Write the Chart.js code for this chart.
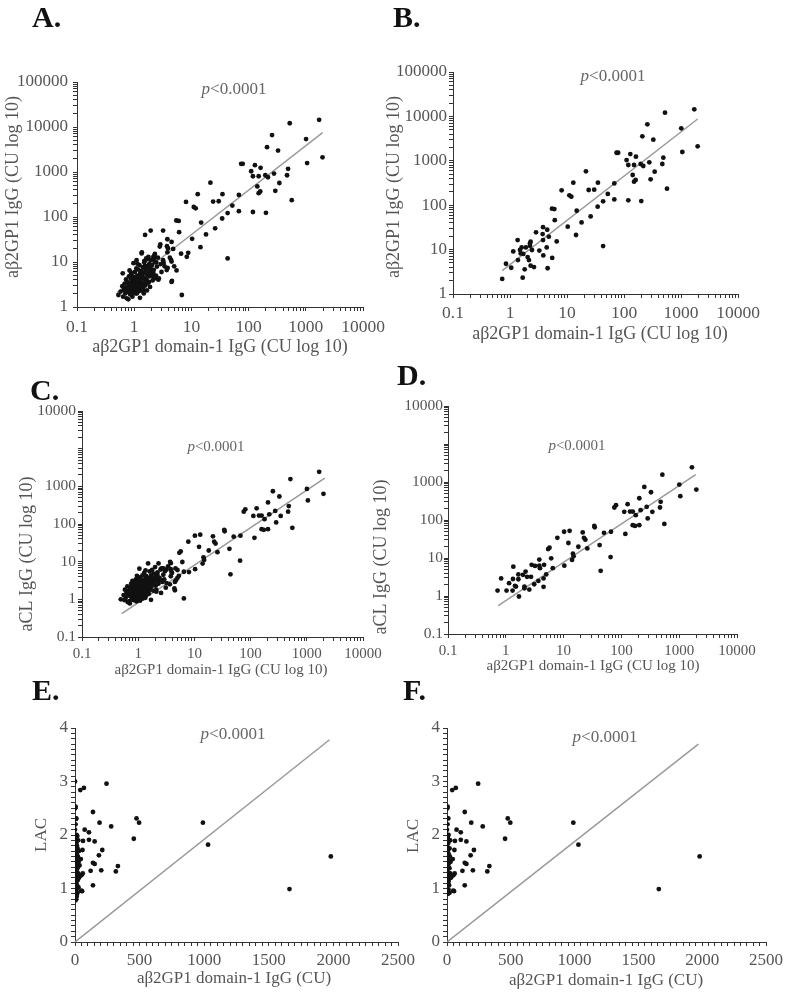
<!DOCTYPE html>
<html>
<head>
<meta charset="utf-8">
<title>aβ2GP1 domain-1 IgG correlations</title>
<script src="https://cdn.jsdelivr.net/npm/chart.js@4.4.1/dist/chart.umd.min.js"></script>
<style>
  body { margin: 0; background: #fff; overflow: hidden; }
  #figure { position: relative; width: 787px; height: 995px; }
  #figure canvas { position: absolute; }
</style>
</head>
<body>
<div id="figure"></div>
<script>
const SERIF = '"Liberation Serif", "Times New Roman", serif'

// tick labels
const logXTicks = [0.1, 1, 10, 100, 1000, 10000]
const logXLabels = ['0.1', '1', '10', '100', '1000', '10000']
const abYTicks = [1, 10, 100, 1000, 10000, 100000]
const abYLabels = ['1', '10', '100', '1000', '10000', '100000']
const cdYTicks = [0.1, 1, 10, 100, 1000, 100000]
const cdYLabels = ['0.1', '1', '10', '100', '1000', '10000'] // top label as printed in the figure
const lacXTicks = [0, 500, 1000, 1500, 2000, 2500]
const lacXLabels = ['0', '500', '1000', '1500', '2000', '2500']
const lacYTicks = [0, 1, 2, 3, 4]
const lacYLabels = ['0', '1', '2', '3', '4']

// [domain-1 IgG, aβ2GP1 IgG] - points shared by A and B
const b2gp1Points = [
  [524, 12100], [1710, 14400], [257, 6620], [1010, 5380], [210, 3560], [327, 2990], [1960, 2120],
  [1055, 1580], [74, 1520], [79, 1520], [129, 1420], [162, 1240], [111, 1040], [490, 1175],
  [119, 804], [150, 804], [196, 847], [218, 764], [278, 923], [470, 847], [21.5, 578], [142, 479],
  [345, 569], [160, 369], [150, 339], [293, 382], [12.9, 321], [34.9, 321], [67.6, 310], [8.05, 216],
  [24, 220], [30, 224], [11, 167], [11.9, 156], [568, 236], [52, 179], [43, 122], [67.6, 135],
  [119, 129], [201, 124], [5.45, 83.5], [6.0, 82], [14.8, 75], [34.5, 92.7], [6.1, 46], [26, 56],
  [18, 41], [10.3, 32.8], [3.8, 32], [4.5, 28], [2.86, 24.5], [3.74, 22.4], [4.8, 19.5], [14.4, 21.3],
  [1.36, 16.4], [2.3, 15.1], [3.8, 16.4], [6.6, 15.3], [1.6, 11.2], [1.9, 11.2], [2.24, 12.2],
  [2.43, 9.8], [1.14, 9.1], [1.54, 8.2], [1.71, 8.0], [2.04, 6.8], [3.27, 9.5], [3.84, 7.4],
  [4.4, 11.2], [43, 12.0], [1.38, 5.8], [2.15, 5.8], [5.5, 6.5], [0.85, 4.8], [1.05, 3.9], [2.3, 4.35],
  [2.64, 4.05], [1.81, 3.6], [4.57, 3.8], [1.67, 2.33], [0.73, 2.18], [1.5, 9.8], [2.24, 13.8]
]
// extra low-titre patients only in A
const b2gp1ExtraA = [
  [0.53, 1.85], [0.62, 2.9], [0.63, 5.6], [0.66, 2.4], [0.68, 3.3], [0.70, 2.0], [0.72, 4.1], [0.74, 1.56],
  [0.75, 2.7], [0.76, 3.6], [0.78, 2.2], [0.79, 1.48], [0.80, 3.0], [0.81, 4.8], [0.82, 2.5], [0.83, 6.5],
  [0.84, 3.4], [0.85, 1.9], [0.86, 2.8], [0.87, 4.3], [0.88, 3.1], [0.89, 2.3], [0.90, 5.2], [0.91, 3.7],
  [0.92, 2.6], [0.93, 1.7], [0.94, 4.0], [0.95, 3.2], [0.96, 2.1], [0.97, 9.4], [0.98, 2.9], [0.99, 3.5],
  [1.00, 4.6], [1.01, 2.4], [1.02, 3.0], [1.03, 6.0], [1.04, 2.7], [1.05, 3.8], [1.06, 2.0], [1.07, 4.4],
  [1.08, 3.3], [1.09, 7.2], [1.10, 2.5], [1.11, 2.0], [1.12, 3.6], [1.13, 5.0], [1.14, 2.9], [1.15, 4.1],
  [1.16, 3.1], [1.17, 2.2], [1.18, 6.8], [1.19, 3.9], [1.20, 2.6], [1.22, 4.7], [1.23, 3.4], [1.24, 8.5],
  [1.25, 2.8], [1.27, 5.5], [1.28, 3.7], [1.30, 2.3], [1.32, 4.2], [1.33, 6.3], [1.35, 15.5], [1.36, 3.2],
  [1.38, 5.0], [1.40, 2.7], [1.42, 7.6], [1.44, 2.4], [1.45, 4.5], [1.47, 3.5], [1.50, 10.5], [1.52, 5.8],
  [1.55, 40], [1.56, 3.0], [1.58, 6.9], [1.60, 4.2], [1.62, 12.0], [1.65, 4.0], [1.68, 8.0], [1.70, 5.1],
  [1.73, 3.4], [1.77, 13], [1.80, 6.2], [1.83, 9.0], [1.86, 4.8], [1.89, 2.8], [1.92, 7.3], [1.94, 50],
  [1.96, 11.0], [2.0, 5.5], [2.05, 8.6], [2.1, 3.9], [2.16, 13], [2.16, 4.7], [2.2, 6.7], [2.3, 10.0],
  [2.4, 5.0], [2.5, 7.9], [2.6, 12.5], [2.7, 4.3], [2.8, 22], [2.9, 9.0], [3.0, 6.0], [3.2, 11], [3.2, 50],
  [3.4, 8.0], [3.7, 6.6], [3.9, 20], [4.2, 12.5], [4.5, 10.2], [4.5, 3.6], [5.0, 8.0], [6.8, 1.85],
  [8.3, 13], [8.8, 16], [0.58, 2.2], [0.64, 1.7], [0.72, 2.6], [0.88, 5.8], [1.26, 1.6], [1.47, 2.0], [1.1, 11]
]

// [domain-1 IgG, aCL IgG] - points shared by C and D
const aclPoints = [
  [1660, 2430], [511, 1560], [1005, 853], [1980, 631], [249, 741], [325, 537], [1045, 423], [128, 261],
  [80.6, 245], [75.5, 213], [204, 374], [112, 164], [141, 167], [157, 167], [177, 134], [215, 181],
  [274, 222], [343, 164], [465, 213], [478, 300], [285, 110], [553, 79], [117, 43], [157, 73], [172, 70],
  [204, 73], [34, 70], [34.5, 64], [10.2, 49], [12.7, 52], [21.4, 47], [7.8, 34], [12.1, 24.8], [22.5, 34],
  [23.8, 30.3], [50, 46], [66, 49], [18, 19.8], [25.7, 17.9], [42, 21.9], [5.4, 17.2], [5.7, 18.7],
  [6.1, 9.8], [14.5, 13], [14.9, 11.1], [14, 8.9], [65, 10.6], [10.3, 6.3], [6.5, 5.4], [43.8, 4.6],
  [3.8, 9.1], [2.8, 6.6], [3.8, 6.3], [4.6, 6.6], [5.0, 3.7], [1.35, 5.9], [1.65, 3.7], [1.98, 3.6],
  [2.2, 4.4], [2.33, 3.2], [2.73, 3.2], [3.2, 6.2], [3.9, 5.4], [0.83, 2.9], [1.14, 2.17], [1.33, 2.8],
  [1.65, 2.76], [1.44, 1.85], [2.1, 1.77], [3.1, 2.04], [3.66, 2.5], [4.5, 1.74], [4.5, 2.9], [0.72, 1.39],
  [1.03, 1.39], [1.31, 1.39], [1.69, 0.97], [2.55, 1.48], [2.1, 1.6], [1.5, 1.77]
]
const aclExtraC = [
  [0.49, 1.0], [0.55, 1.3], [0.58, 1.8], [0.60, 1.1], [0.62, 1.5], [0.64, 2.2], [0.66, 1.25], [0.68, 1.7],
  [0.70, 0.9], [0.71, 0.78], [0.72, 2.0], [0.74, 1.4], [0.75, 2.6], [0.76, 1.1], [0.78, 1.8], [0.79, 3.1],
  [0.80, 1.3], [0.81, 1.6], [0.82, 2.3], [0.83, 0.95], [0.84, 1.9], [0.85, 1.2], [0.86, 2.8], [0.87, 1.5],
  [0.88, 2.1], [0.89, 1.05], [0.90, 1.7], [0.91, 3.4], [0.92, 1.35], [0.93, 2.4], [0.94, 1.6], [0.95, 1.9],
  [0.96, 1.15], [0.97, 2.7], [0.98, 1.45], [0.99, 2.0], [1.00, 3.2], [1.01, 1.25], [1.02, 1.75], [1.03, 2.2],
  [1.04, 1.0], [1.05, 2.9], [1.06, 1.55], [1.07, 2.05], [1.08, 3.8], [1.09, 1.3], [1.10, 2.4], [1.11, 1.7],
  [1.12, 1.1], [1.13, 2.6], [1.14, 1.9], [1.15, 3.3], [1.16, 1.45], [1.17, 2.15], [1.18, 1.2], [1.19, 4.3],
  [1.20, 1.8], [1.22, 2.5], [1.23, 1.35], [1.24, 3.0], [1.25, 1.65], [1.27, 2.3], [1.28, 5.0], [1.30, 1.5],
  [1.32, 2.8], [1.33, 1.9], [1.35, 3.6], [1.36, 1.25], [1.38, 2.2], [1.40, 4.1], [1.42, 1.6], [1.44, 2.6],
  [1.45, 3.2], [1.47, 1.9], [1.50, 9.0], [1.52, 2.4], [1.55, 1.4], [1.56, 3.5], [1.58, 2.0], [1.60, 5.5],
  [1.62, 2.7], [1.65, 1.8], [1.68, 3.0], [1.70, 4.3], [1.73, 2.2], [1.77, 6.0], [1.80, 2.6], [1.83, 3.6],
  [1.86, 1.7], [1.89, 4.8], [1.92, 2.9], [1.96, 3.3], [2.0, 7.2], [2.05, 2.3], [2.1, 4.0], [2.16, 3.0],
  [2.2, 5.2], [2.3, 2.6], [2.4, 3.7], [2.5, 6.2], [2.6, 6.6], [2.7, 2.9], [2.8, 4.5], [2.9, 3.4], [3.0, 5.6],
  [3.2, 2.7], [3.4, 7.5], [3.7, 9.9], [3.8, 4.1], [4.0, 5.0], [4.4, 1.95], [4.7, 3.2], [5.0, 6.0], [5.3, 4.2],
  [6.5, 1.06], [8.0, 5.3], [0.57, 0.95], [0.65, 0.85], [0.77, 2.4], [0.93, 0.88], [1.08, 0.92], [1.21, 1.05],
  [1.34, 1.1], [2.3, 9.0], [1.05, 6.5], [0.95, 4.2]
]

// [domain-1 IgG (CU), LAC ratio]
const lacPoints = [
  [41, 2.84], [69, 2.88], [244, 2.96], [5, 2.53], [139, 2.43], [10, 2.31], [190, 2.23], [280, 2.16],
  [476, 2.31], [496, 2.23], [990, 2.23], [1030, 1.82], [455, 1.93], [75, 2.1], [108, 2.05], [62, 1.89],
  [108, 1.91], [152, 1.88], [211, 1.72], [185, 1.62], [58, 1.72], [139, 1.48], [152, 1.46], [332, 1.42],
  [316, 1.32], [121, 1.33], [203, 1.34], [139, 1.06], [49, 0.96], [1660, 0.99], [1980, 1.6]
]
const lacColumnE = [
  [0, 3.0], [2, 2.5], [8, 2.3], [4, 2.2], [12, 2.0], [3, 2.0], [18, 1.98], [6, 1.95], [25, 1.9], [1, 1.88],
  [10, 1.85], [15, 1.8], [3, 1.78], [20, 1.75], [7, 1.72], [30, 1.7], [2, 1.68], [12, 1.65], [5, 1.62],
  [22, 1.6], [9, 1.58], [1, 1.55], [16, 1.52], [28, 1.5], [4, 1.48], [11, 1.45], [35, 1.43], [6, 1.4],
  [19, 1.38], [2, 1.35], [14, 1.32], [8, 1.3], [25, 1.28], [3, 1.26], [40, 1.25], [17, 1.24], [50, 1.25],
  [10, 1.22], [1, 1.2], [30, 1.2], [6, 1.18], [22, 1.16], [13, 1.14], [4, 1.12], [9, 1.1], [2, 1.08],
  [16, 1.06], [7, 1.04], [27, 1.02], [3, 1.0], [12, 0.98], [5, 0.96], [1, 0.94], [20, 0.92], [8, 0.9],
  [3, 0.88], [14, 0.86], [6, 0.84], [2, 0.82], [10, 0.8], [4, 0.78], [0, 1.5], [0, 1.3], [0, 1.1],
  [0, 0.95], [0, 2.1], [0, 1.7], [60, 1.28], [45, 1.55], [35, 1.22], [55, 0.95]
]
const lacColumnF = [
  [2, 2.5], [4, 2.2], [12, 2.0], [3, 2.0], [6, 1.95], [25, 1.9], [10, 1.85], [3, 1.78], [20, 1.75],
  [7, 1.72], [2, 1.68], [12, 1.65], [5, 1.62], [22, 1.6], [1, 1.55], [16, 1.52], [28, 1.5], [4, 1.48],
  [11, 1.45], [6, 1.4], [19, 1.38], [2, 1.35], [8, 1.3], [25, 1.28], [3, 1.26], [40, 1.25], [50, 1.25],
  [10, 1.22], [30, 1.2], [6, 1.18], [13, 1.14], [4, 1.12], [9, 1.1], [16, 1.06], [3, 1.0], [12, 0.98],
  [5, 0.96], [20, 0.92], [8, 0.9], [0, 1.5], [0, 1.3], [0, 1.1], [0, 2.1], [60, 1.28], [45, 1.55],
  [35, 1.22], [55, 0.95]
]

// regression lines, end points
const fitA = [[0.5, 2.1], [1970, 7470]]
const fitB = [[0.73, 3.35], [1960, 8730]]
const fitC = [[0.51, 0.42], [2090, 1650]]
const fitD = [[0.74, 0.56], [1930, 1560]]
const fitE = [[0, 0], [1970, 3.78]]
const fitF = [[0, 0], [1970, 3.7]]

// minor tick marks
function logMarks(fromExp, toExp) {
  const marks = []
  for (let e = fromExp; e < toExp; e++) {
    for (let m = 1; m < 10; m++) marks.push(+(m * Math.pow(10, e)).toPrecision(3))
  }
  marks.push(Math.pow(10, toExp))
  return marks
}
function linMarks(count, step) {
  const marks = []
  for (let i = 0; i <= count; i++) marks.push(Math.round(i * step * 1000) / 1000)
  return marks
}

function labeler(values, labels) {
  return v => {
    const i = values.findIndex(t => Math.abs(v - t) <= t * 1e-6 + 1e-9)
    return i < 0 ? '' : labels[i]
  }
}

function axis(o) {
  return {
    type: o.type,
    min: o.min,
    max: o.max,
    border: { display: true, color: '#333', width: 1 },
    grid: { display: true, drawOnChartArea: false, drawTicks: true, tickLength: 4, color: '#333' },
    ticks: {
      autoSkip: false, maxRotation: 0, minRotation: 0, padding: o.pad, color: '#555',
      font: { family: SERIF, size: o.size },
      callback: labeler(o.values, o.labels)
    },
    afterBuildTicks: s => { s.ticks = o.marks.map(v => ({ value: v })) },
    afterFit: s => {
      if (o.width) s.width = o.width
      if (o.height) s.height = o.height
    }
  }
}

function drawP(ctx, x, y, size) {
  const italic = 'italic ' + size + 'px ' + SERIF
  const plain = size + 'px ' + SERIF
  ctx.font = italic
  const w1 = ctx.measureText('p').width
  ctx.font = plain
  const w2 = ctx.measureText('<0.0001').width
  const left = x - (w1 + w2) / 2
  ctx.textAlign = 'left'
  ctx.fillStyle = '#666'
  ctx.font = italic
  ctx.fillText('p', left, y)
  ctx.font = plain
  ctx.fillText('<0.0001', left + w1, y)
}

const panelText = {
  id: 'panelText',
  afterDraw(chart, args, opts) {
    const ctx = chart.ctx
    const ox = opts.box.left, oy = opts.box.top
    ctx.save()
    // panel letter
    ctx.font = 'bold 30px ' + SERIF
    ctx.fillStyle = '#111'
    ctx.textAlign = 'left'
    ctx.textBaseline = 'alphabetic'
    ctx.fillText(opts.letter[0], opts.letter[1] - ox, opts.letter[2] - oy)

    ctx.textBaseline = 'middle'
    drawP(ctx, opts.p[0] - ox, opts.p[1] - oy, opts.p[2])

    ctx.fillStyle = '#555'
    ctx.textAlign = 'center'
    ctx.font = opts.xTitle[3] + 'px ' + SERIF
    ctx.fillText(opts.xTitle[0], opts.xTitle[1] - ox, opts.xTitle[2] - oy)

    ctx.translate(opts.yTitle[1] - ox, opts.yTitle[2] - oy)
    ctx.rotate(-Math.PI / 2)
    ctx.font = opts.yTitle[3] + 'px ' + SERIF
    ctx.fillText(opts.yTitle[0], 0, 0)
    ctx.restore()
  }
}

function toXY(pairs) {
  return pairs.map(p => ({ x: p[0], y: p[1] }))
}

function buildPanel(p) {
  const container = document.getElementById('figure')
  const canvas = document.createElement('canvas')
  canvas.width = p.box.width
  canvas.height = p.box.height
  canvas.style.left = p.box.left + 'px'
  canvas.style.top = p.box.top + 'px'
  container.appendChild(canvas)

  new Chart(canvas.getContext('2d'), {
    type: 'scatter',
    data: {
      datasets: [
        {
          data: toXY(p.points),
          pointRadius: 2.4,
          pointBackgroundColor: '#111',
          backgroundColor: '#111',
          pointBorderWidth: 0,
          order: 0
        },
        {
          data: toXY(p.fit),
          showLine: true,
          borderColor: '#9a9a9a',
          borderWidth: 1.5,
          pointRadius: 0,
          order: 1
        }
      ]
    },
    options: {
      responsive: false,
      animation: false,
      devicePixelRatio: 1,
      layout: { padding: { left: 0, bottom: 0, top: p.padTop, right: p.padRight } },
      plugins: {
        legend: { display: false },
        tooltip: { enabled: false },
        panelText: {
          box: p.box, letter: p.letter, p: p.pLabel, xTitle: p.xTitle, yTitle: p.yTitle
        }
      },
      scales: { x: p.x, y: p.y }
    },
    plugins: [panelText]
  })
}

const logX = (size, height, pad) => axis({
  type: 'logarithmic', min: 0.1, max: 10000, marks: logMarks(-1, 4),
  values: logXTicks, labels: logXLabels, size: size, height: height, pad: pad
})
const linX = (height) => axis({
  type: 'linear', min: 0, max: 2500, marks: linMarks(50, 50),
  values: lacXTicks, labels: lacXLabels, size: 17, height: height, pad: 4
})

const titleX = 'aβ2GP1 domain-1 IgG (CU log 10)'

const panels = [
  {
    box: { left: 0, top: 0, width: 392, height: 360 }, padTop: 82, padRight: 29,
    points: b2gp1Points.concat(b2gp1ExtraA), fit: fitA,
    x: logX(17.5, 53, 6),
    y: axis({ type: 'logarithmic', min: 1, max: 100000, marks: logMarks(0, 5), values: abYTicks, labels: abYLabels, size: 17, width: 77, pad: 5 }),
    letter: ['A.', 32, 27], pLabel: [234, 90, 17],
    xTitle: [titleX, 220, 347, 18], yTitle: ['aβ2GP1 IgG (CU log 10)', 13, 187, 18]
  },
  {
    box: { left: 383, top: 0, width: 404, height: 345 }, padTop: 72, padRight: 49,
    points: b2gp1Points, fit: fitB,
    x: logX(17.5, 51, 5),
    y: axis({ type: 'logarithmic', min: 1, max: 100000, marks: logMarks(0, 5), values: abYTicks, labels: abYLabels, size: 17, width: 70, pad: 2 }),
    letter: ['B.', 393, 27], pLabel: [613, 77, 17],
    xTitle: [titleX, 600, 334, 18], yTitle: ['aβ2GP1 IgG (CU log 10)', 394, 187, 18]
  },
  {
    box: { left: 0, top: 360, width: 390, height: 322 }, padTop: 51, padRight: 27,
    points: aclPoints.concat(aclExtraC), fit: fitC,
    x: logX(15, 45, 4),
    y: axis({ type: 'logarithmic', min: 0.1, max: 100000, marks: logMarks(-1, 5), values: cdYTicks, labels: cdYLabels, size: 15.5, width: 82, pad: 2 }),
    letter: ['C.', 30, 400], pLabel: [216, 447, 15],
    xTitle: [titleX, 221, 670, 15], yTitle: ['aCL IgG (CU log 10)', 27, 554, 18]
  },
  {
    box: { left: 370, top: 345, width: 417, height: 337 }, padTop: 61, padRight: 50,
    points: aclPoints, fit: fitD,
    x: logX(15, 48, 4),
    y: axis({ type: 'logarithmic', min: 0.1, max: 100000, marks: logMarks(-1, 5), values: cdYTicks, labels: cdYLabels, size: 15.5, width: 78, pad: 1 }),
    letter: ['D.', 397, 385], pLabel: [577, 446, 15],
    xTitle: [titleX, 593, 666, 15], yTitle: ['aCL IgG (CU log 10)', 381, 557, 18]
  },
  {
    box: { left: 0, top: 672, width: 420, height: 323 }, padTop: 56, padRight: 22,
    points: lacPoints.concat(lacColumnE), fit: fitE,
    x: linX(53),
    y: axis({ type: 'linear', min: 0, max: 4, marks: linMarks(40, 0.1), values: lacYTicks, labels: lacYLabels, size: 17, width: 75, pad: 3 }),
    letter: ['E.', 32, 700], pLabel: [233, 735, 17],
    xTitle: ['aβ2GP1 domain-1 IgG (CU)', 234, 979, 17], yTitle: ['LAC', 42, 835, 17]
  },
  {
    box: { left: 400, top: 672, width: 387, height: 323 }, padTop: 56, padRight: 17,
    points: lacPoints.concat(lacColumnF), fit: fitF,
    x: linX(53),
    y: axis({ type: 'linear', min: 0, max: 4, marks: linMarks(40, 0.1), values: lacYTicks, labels: lacYLabels, size: 17, width: 47, pad: 3 }),
    letter: ['F.', 403, 700], pLabel: [605, 738, 17],
    xTitle: ['aβ2GP1 domain-1 IgG (CU)', 606, 981, 17], yTitle: ['LAC', 414, 836, 17]
  }
]

panels.forEach(buildPanel)
</script>
</body>
</html>
